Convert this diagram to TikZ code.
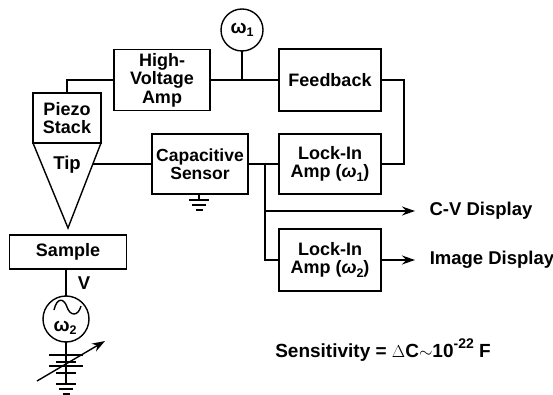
\documentclass[tikz,border=0pt]{standalone}
\usepackage{fontspec}
\setmainfont{Liberation Sans}
\usetikzlibrary{calc,arrows.meta}

\def\lowidx#1{\raisebox{-.35ex}{\fontsize{12.5}{12.5}\selectfont #1}}
\def\highidx#1{\raisebox{.85ex}{\fontsize{14}{14}\selectfont #1}}

\begin{document}
\begin{tikzpicture}[x=1pt,y=-1pt,line width=1.4pt,
    box/.style={draw,align=center,inner sep=0pt,outer sep=0pt,font=\fontsize{18}{18.5}\selectfont\bfseries},
    label/.style={inner sep=0pt,outer sep=0pt,align=center,font=\fontsize{18.5}{18.5}\selectfont\bfseries},
    osc/.style={draw,circle,inner sep=0pt,outer sep=0pt,font=\fontsize{19}{19}\selectfont\bfseries},
    wire/.style={line width=1.4pt},
    feed/.style={wire,-{Stealth[length=13pt,width=9pt]}}]

    \useasboundingbox (0,0) rectangle (553,395);

    % three bars of a ground at the end of a lead
    \def\ground#1#2#3{
      \foreach \w/\d in {#3/0,0.68*#3/5,0.35*#3/10} {
        \draw[line width=1.5pt] ($(#1,#2)+({-\w},\d)$) -- ($(#1,#2)+({\w},\d)$);
      }
    }

    % boxes
    \node[box,minimum width=68pt,minimum height=50pt] (piezo) at (67,118) {Piezo\\Stack};
    \node[box,minimum width=96pt,minimum height=61pt] (hvamp) at (162,80) {High-\\Voltage\\Amp};
    \node[box,minimum width=102pt,minimum height=62pt] (feedback) at (330,80) {Feedback};
    \node[box,font=\fontsize{17.5}{18.5}\selectfont\bfseries,minimum width=96pt,minimum height=60pt] (sensor) at (200,164) {Capacitive\\Sensor};
    \node[box,minimum width=102pt,minimum height=60pt] (lockone) at (330,164) {Lock-In\\Amp (\textit{ω}\lowidx{1})};
    \node[box,minimum width=102pt,minimum height=62pt] (locktwo) at (330,260) {Lock-In\\Amp (\textit{ω}\lowidx{2})};
    \node[box,minimum width=117pt,minimum height=34pt] (sample) at (68,252) {Sample};

    % oscillators
    \node[osc,minimum size=42pt] (oscone) at (242,30) {ω\lowidx{1}};
    \node[osc,minimum size=46pt] (osctwo) at (66,319) {};
    \node[label,font=\fontsize{19}{19}\selectfont\bfseries] (omegatwo) at (65,328) {ω\lowidx{2}};
    \draw[wire] (54,310) .. controls (57,297) and (64,298) .. (67,307)
      .. controls (70,316) and (78,317) .. (81,306);

    % tip
    \coordinate (tipleft) at (piezo.south west);
    \coordinate (tipright) at (piezo.south east);
    \coordinate (apex) at (68,228);
    \coordinate (tipside) at (93,164);
    \draw[line join=miter] (tipleft) -- (apex) -- (tipright);
    \node[label] (tip) at (67,165) {Tip};

    % texts
    \node[label] (cvdisplay) at (481,211) {C-V Display};
    \node[label] (imagedisplay) at (492,260) {Image Display};
    \node[label] (volt) at (84,283) {V};
    \node[label,font=\fontsize{19}{19}\selectfont\bfseries] (sensitivity) at (383,350) {Sensitivity = {\mdseries$\Delta$}C$\sim$10\highidx{-22} F};

    % connectors
    \coordinate (hvout) at (242,80);
    \coordinate (branch) at (265,164);
    \coordinate (cvtap) at (265,211);
    \coordinate (cvend) at (415,211);
    \coordinate (imgend) at (415,260);
    \coordinate (loopright) at (404,80);
    \draw[wire] (hvamp.west) -| (piezo.north);
    \draw[wire] (hvamp.east) -- (feedback.west);
    \draw[wire] (oscone.south) -- (hvout);
    \draw[wire] (feedback.east) -- (loopright) |- (lockone.east);
    \draw[wire] (tipside) -- (sensor.west);
    \draw[wire] (sensor.east) -- (lockone.west);
    \draw[wire] (branch) |- (locktwo.west);
    \draw[feed] (cvtap) -- (cvend);
    \draw[feed] (locktwo.east) -- (imgend);
    \draw[wire] (sample.south -| osctwo.north) -- (osctwo.north);

    % ground of the sensor
    \coordinate (sensorgnd) at (199,200);
    \draw[wire] (sensorgnd |- sensor.south) -- (sensorgnd);
    \ground{199}{200}{10}

    % variable battery under the source
    \coordinate (batbottom) at (66,384);
    \draw[wire] (osctwo.south) -- (66,355);
    \draw[wire] (66,355) -- (batbottom);
    \foreach \y/\w in {355/17,362/10,366/17,373/10} {
      \draw[line width=1.5pt] (66-\w,\y) -- (66+\w,\y);
    }
    \ground{66}{384}{10}
    \coordinate (sweepstart) at (37,381);
    \coordinate (sweepend) at (105,341);
    \draw[feed] (sweepstart) -- (sweepend);

\end{tikzpicture}
\end{document}
